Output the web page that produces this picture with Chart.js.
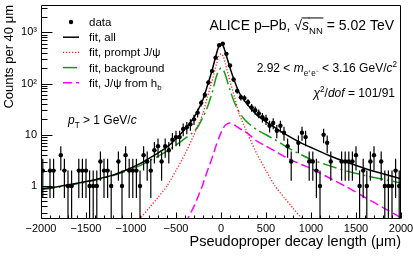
<!DOCTYPE html>
<html>
<head>
<meta charset="utf-8">
<script src="https://cdn.jsdelivr.net/npm/chart.js@4.4.0/dist/chart.umd.min.js"></script>
<style>
    html, body { margin: 0; padding: 0; background: #fff; }
    canvas { display: block; }
</style>
</head>
<body>
<canvas class="js-chart" width="413" height="256"></canvas>
<script>
const FONT = "'Liberation Sans', Arial, Helvetica, sans-serif";

// counts per 40 um bin, bin centres in um (empty bins left out)
const DATA_X = [-1980, -1900, -1860, -1780, -1740, -1700, -1660, -1580, -1540, -1500,
    -1460, -1420, -1380, -1340, -1300, -1260, -1220, -1140, -1100, -1060,
    -1020, -980, -940, -900, -860, -820, -780, -740, -700, -660,
    -620, -580, -540, -500, -460, -420, -380, -340, -300, -260,
    -220, -180, -140, -100, -60, -20, 20, 60, 100, 140,
    180, 220, 260, 300, 340, 380, 420, 460, 500, 540,
    580, 620, 660, 700, 740, 780, 860, 900, 940, 980,
    1020, 1060, 1100, 1140, 1180, 1220, 1340, 1380, 1420, 1460,
    1500, 1540, 1580, 1620, 1660, 1700, 1780, 1820, 1860, 1900,
    1940, 1980];
const DATA_Y = [2, 2, 2, 4, 2, 1, 1, 2, 2, 2,
    1, 1, 1, 3, 2, 2, 1, 3, 1, 4,
    2, 2, 2, 1, 4, 3, 2, 5, 6, 3,
    6, 5, 8, 9, 9, 13, 14, 16, 20, 27,
    42, 60, 105, 175, 320, 560, 600, 380, 225, 120,
    72, 54, 52, 43, 34, 30, 26, 22, 20, 15,
    17, 12, 15, 11, 6, 3, 7, 11, 9, 3,
    3, 2, 1, 10, 7, 3, 3, 3, 3, 3,
    4, 1, 2, 1, 3, 4, 3, 1, 1, 1,
    2, 1];

// fit components
const FIT_X = [-2000, -1800, -1600, -1400, -1200, -1000, -900, -800, -700, -600,
    -500, -400, -300, -250, -200, -150, -100, -50, -25, 0,
    25, 50, 100, 150, 200, 250, 300, 400, 500, 600,
    700, 800, 900, 1000, 1200, 1400, 1600, 1800, 2000];
const FIT_ALL = [0.88, 0.98, 1.13, 1.33, 1.63, 2.25, 2.73, 3.47, 4.4, 5.8,
    8.3, 12.9, 21.9, 31.7, 49, 92, 178, 386, 528, 591,
    538, 400, 202, 112, 67.5, 49, 37.5, 24.2, 18, 13.8,
    10.6, 8.4, 6.8, 5.65, 3.95, 2.9, 2.2, 1.73, 1.39];
const FIT_PROMPT = [null, null, null, null, null, 0.15, 0.23, 0.37, 0.6, 1.0,
    2.0, 4.2, 10, 16, 26, 55, 110, 240, 340, 380,
    340, 240, 110, 55, 26, 16, 10, 4.2, 2.0, 1.0,
    0.6, 0.37, 0.23, 0.15, null, null, null, null, null];
const FIT_BKG = [0.85, 0.95, 1.1, 1.3, 1.6, 2.1, 2.5, 3.1, 3.8, 4.8,
    6.3, 8.5, 11.5, 15, 22, 35, 65, 140, 180, 200,
    185, 145, 75, 42, 28, 21, 17, 12.5, 10, 8,
    6.2, 4.9, 4.0, 3.3, 2.5, 1.95, 1.6, 1.35, 1.15];
const FIT_NONPROMPT = [null, null, null, null, null, null, null, null, null, null,
    null, 0.18, 0.4, 0.65, 1.1, 2.0, 3.5, 6.5, 8.5, 11,
    13.5, 15.5, 17, 15.5, 13.5, 12, 10.5, 7.5, 6, 4.8,
    3.8, 3.1, 2.6, 2.2, 1.45, 0.95, 0.6, 0.38, 0.24];

const X_TICKS = [-2000, -1500, -1000, -500, 0, 500, 1000, 1500, 2000];
const Y_TICKS = [1, 10, 100, 1000];
const Y_TICK_LABELS = ['1', '10', '10²', '10³'];

const LEGEND = [
    [{ t: 'data' }],
    [{ t: 'fit, all' }],
    [{ t: 'fit, prompt J/ψ' }],
    [{ t: 'fit, background' }],
    [{ t: 'fit, J/ψ from h' }, { t: 'b', sub: true }],
];

const toPoints = (xs, ys) => xs.map((x, i) => ({ x, y: ys[i] }));

function drawRuns(ctx, runs, x, y, size, align) {
    const pieces = runs.map(r => {
        const s = r.sub || r.sup ? size * 0.68 : size;
        const font = (r.italic ? 'italic ' : '') + s + 'px ' + FONT;
        ctx.font = font;
        return Object.assign({}, r, {
            font,
            w: ctx.measureText(r.t).width,
            dy: r.sub ? size * 0.3 : r.sup ? -size * 0.42 : 0,
        });
    });
    const total = pieces.reduce((acc, p) => acc + p.w, 0);
    let cx = align === 'right' ? x - total : x;
    ctx.textAlign = 'left';
    ctx.textBaseline = 'alphabetic';
    ctx.fillStyle = '#000';
    pieces.forEach(p => {
        ctx.font = p.font;
        ctx.fillText(p.t, cx, y + p.dy);
        if (p.over) {
            ctx.strokeStyle = '#000';
            ctx.lineWidth = 1;
            ctx.beginPath();
            ctx.moveTo(cx - 0.5, y - size * 0.86);
            ctx.lineTo(cx + p.w + 0.5, y - size * 0.86);
            ctx.stroke();
        }
        cx += p.w;
    });
}

const rootFrame = {
    id: 'rootFrame',
    afterDatasetsDraw(chart) {
        const { ctx, chartArea: a, scales: { x, y } } = chart;
        ctx.save();

        // error bars, clipped to the frame
        ctx.beginPath();
        ctx.rect(a.left, a.top, a.right - a.left, a.bottom - a.top);
        ctx.clip();
        ctx.strokeStyle = '#000';
        ctx.lineWidth = 1.2;
        DATA_X.forEach((bx, i) => {
            const v = DATA_Y[i];
            const err = Math.sqrt(v);
            const px = x.getPixelForValue(bx);
            const lo = v - err > y.min ? y.getPixelForValue(v - err) : a.bottom;
            const hi = y.getPixelForValue(v + err);
            const py = y.getPixelForValue(v);
            ctx.beginPath();
            ctx.moveTo(px, lo);
            ctx.lineTo(px, hi);
            ctx.moveTo(x.getPixelForValue(bx - 20), py);
            ctx.lineTo(x.getPixelForValue(bx + 20), py);
            ctx.stroke();
        });
        ctx.restore();

        ctx.save();
        ctx.strokeStyle = '#000';
        ctx.lineWidth = 1;
        const l = Math.round(a.left) + 0.5;
        const r = Math.round(a.right) - 0.5;
        const t = Math.round(a.top) + 0.5;
        const b = Math.round(a.bottom) - 0.5;
        ctx.beginPath();
        ctx.rect(l, t, r - l, b - t);
        // x ticks, inward
        for (let v = -2000; v <= 2000; v += 100) {
            const px = Math.round(x.getPixelForValue(v)) + 0.5;
            const len = v % 500 === 0 ? 6 : 3;
            ctx.moveTo(px, b);
            ctx.lineTo(px, b - len);
        }
        // y ticks, inward
        for (let d = -1; d <= 3; d++) {
            for (let k = 1; k <= 9; k++) {
                const v = k * Math.pow(10, d);
                if (v < y.min || v > y.max) continue;
                const py = Math.round(y.getPixelForValue(v)) + 0.5;
                ctx.moveTo(l, py);
                ctx.lineTo(l + (k === 1 ? 11 : 6), py);
            }
        }
        ctx.stroke();
        ctx.restore();
    },
};

const rootText = {
    id: 'rootText',
    afterDraw(chart) {
        const ctx = chart.ctx;
        ctx.save();
        // legend
        chart.data.datasets.forEach((ds, i) => {
            const yy = 22 + i * 15.2;
            if (ds.showLine) {
                ctx.strokeStyle = ds.borderColor;
                ctx.lineWidth = ds.borderWidth;
                ctx.setLineDash(ds.borderDash || []);
                ctx.beginPath();
                ctx.moveTo(63, yy);
                ctx.lineTo(79, yy);
                ctx.stroke();
                ctx.setLineDash([]);
            } else {
                ctx.fillStyle = '#000';
                ctx.beginPath();
                ctx.arc(71, yy, 2.2, 0, Math.PI * 2);
                ctx.fill();
            }
            drawRuns(ctx, LEGEND[i], 89, yy + 4, 11.5);
        });

        drawRuns(ctx, [
            { t: 'ALICE p–Pb, ' },
            { t: '√' },
            { t: 's', italic: true, over: true },
            { t: 'NN', sub: true, over: true },
            { t: ' = 5.02 TeV' },
        ], 394, 30, 14, 'right');

        drawRuns(ctx, [
            { t: '2.92 < ' },
            { t: 'm', italic: true },
            { t: 'e⁺e⁻', sub: true },
            { t: ' < 3.16 GeV/' },
            { t: 'c', italic: true },
            { t: '2', sup: true },
        ], 397, 72, 12, 'right');

        drawRuns(ctx, [
            { t: 'χ', italic: true },
            { t: '2', sup: true },
            { t: '/' },
            { t: 'dof', italic: true },
            { t: ' = 101/91' },
        ], 395, 97, 12, 'right');

        drawRuns(ctx, [
            { t: 'p', italic: true },
            { t: 'T', sub: true },
            { t: ' > 1 GeV/' },
            { t: 'c', italic: true },
        ], 68, 124, 12);
        ctx.restore();
    },
};

new Chart(document.querySelector('.js-chart').getContext('2d'), {
    type: 'scatter',
    data: {
        datasets: [
            {
                label: 'data',
                data: toPoints(DATA_X, DATA_Y),
                showLine: false,
                pointRadius: 2.2,
                pointBackgroundColor: '#000',
                pointBorderWidth: 0,
            },
            {
                label: 'fit, all',
                data: toPoints(FIT_X, FIT_ALL),
                showLine: true,
                borderColor: '#000',
                borderWidth: 1.5,
                pointRadius: 0,
                tension: 0.2,
                clip: 0,
            },
            {
                label: 'fit, prompt J/ψ',
                data: toPoints(FIT_X, FIT_PROMPT),
                showLine: true,
                borderColor: '#ff2020',
                borderWidth: 1.3,
                borderDash: [1.2, 1.8],
                pointRadius: 0,
                tension: 0.2,
                clip: 0,
            },
            {
                label: 'fit, background',
                data: toPoints(FIT_X, FIT_BKG),
                showLine: true,
                borderColor: '#169a16',
                borderWidth: 1.5,
                borderDash: [14, 4, 2, 4],
                pointRadius: 0,
                tension: 0.2,
                clip: 0,
            },
            {
                label: 'fit, J/ψ from hb',
                data: toPoints(FIT_X, FIT_NONPROMPT),
                showLine: true,
                borderColor: '#ff00ff',
                borderWidth: 1.5,
                borderDash: [9, 4],
                pointRadius: 0,
                tension: 0.2,
                clip: 0,
            },
        ],
    },
    options: {
        responsive: false,
        animation: false,
        events: [],
        layout: { padding: { left: 0, top: 5, right: 12, bottom: 0 } },
        plugins: {
            legend: { display: false },
            tooltip: { enabled: false },
        },
        scales: {
            x: {
                type: 'linear',
                min: -2000,
                max: 2000,
                afterBuildTicks(scale) {
                    scale.ticks = X_TICKS.map(value => ({ value }));
                },
                afterFit(scale) {
                    scale.height = 37;
                    scale.paddingLeft = 0;
                    scale.paddingRight = 0;
                },
                grid: { display: false, drawTicks: false },
                border: { display: false },
                ticks: {
                    color: '#000',
                    font: { family: FONT, size: 11 },
                    padding: 3,
                    maxRotation: 0,
                    autoSkip: false,
                    callback: value => (value < 0 ? '\u2212' + Math.abs(value) : String(value)),
                },
                title: {
                    display: true,
                    text: 'Pseudoproper decay length (μm)',
                    align: 'end',
                    color: '#000',
                    font: { family: FONT, size: 14.5 },
                    padding: { top: 0, bottom: 5 },
                },
            },
            y: {
                type: 'logarithmic',
                min: 0.227,
                max: 3410,
                afterBuildTicks(scale) {
                    scale.ticks = Y_TICKS.map(value => ({ value }));
                },
                afterFit(scale) {
                    scale.width = 41;
                    scale.paddingTop = 0;
                    scale.paddingBottom = 0;
                },
                grid: { display: false, drawTicks: false },
                border: { display: false },
                ticks: {
                    color: '#000',
                    font: { family: FONT, size: 11 },
                    padding: 4,
                    callback: (value, index) => Y_TICK_LABELS[index],
                },
                title: {
                    display: true,
                    text: 'Counts per 40 μm',
                    align: 'end',
                    color: '#000',
                    font: { family: FONT, size: 13 },
                    padding: { top: 2, bottom: 0 },
                },
            },
        },
    },
    plugins: [rootFrame, rootText],
});
</script>
</body>
</html>
